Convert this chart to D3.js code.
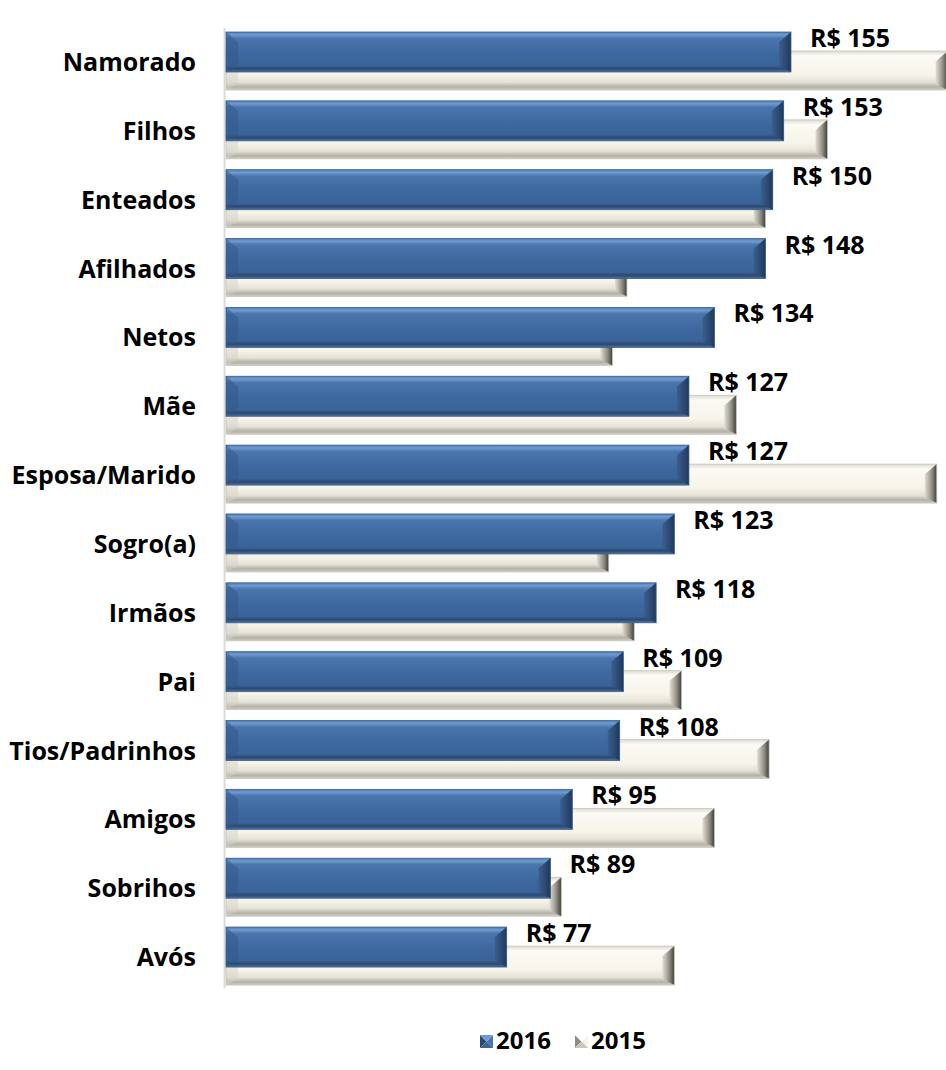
<!DOCTYPE html>
<html>
<head>
<meta charset="utf-8">
<script src="https://cdn.jsdelivr.net/npm/d3@7"></script>
<style>
  html, body { margin: 0; padding: 0; background: #ffffff; }
  svg { display: block; }
  text { font-family: "Open Sans", Lato, sans-serif; font-weight: 700; fill: #000; }
</style>
</head>
<body>
<svg id="chart" width="946" height="1070"></svg>
<script>
// Gasto médio com presentes por destinatário (R$)
const categories = ["Namorado", "Filhos", "Enteados", "Afilhados", "Netos", "Mãe", "Esposa/Marido",
  "Sogro(a)", "Irmãos", "Pai", "Tios/Padrinhos", "Amigos", "Sobrihos", "Avós"];
const values2016 = [155, 153, 150, 148, 134, 127, 127, 123, 118, 109, 108, 95, 89, 77];
const values2015 = [198, 165, 148, 110, 106, 140, 195, 105, 112, 125, 149, 134, 92, 123];
const seriesNames = ["2016", "2015"];

const svg = d3.select("#chart");
const W = 946, H = 1070;

const x = d3.scaleLinear().domain([0, 200]).range([226, 955]);
const y = d3.scaleBand().domain(categories).range([32, 32 + categories.length * 68.85]).padding(0);

const blueH = 40, creamOff = 19, creamH = 39;

// gradients for the bevelled bar look
const defs = svg.append("defs");
function vGrad(id, stops) {
  const g = defs.append("linearGradient").attr("id", id)
    .attr("x1", 0).attr("y1", 0).attr("x2", 0).attr("y2", 1);
  stops.forEach(s => g.append("stop").attr("offset", s[0]).attr("stop-color", s[1]));
}
function hGrad(id, stops) {
  const g = defs.append("linearGradient").attr("id", id)
    .attr("x1", 0).attr("y1", 0).attr("x2", 1).attr("y2", 0);
  stops.forEach(s => g.append("stop").attr("offset", s[0]).attr("stop-color", s[1]));
}
vGrad("blueBody", [[0, "#4f7bb3"], [0.07, "#6f9bd0"], [0.16, "#4a76ad"], [0.55, "#3d689f"],
  [0.84, "#3a6498"], [0.92, "#2a4870"], [1, "#4f72a0"]]);
hGrad("blueEnd", [[0, "#3a5f8e"], [1, "#21395c"]]);
vGrad("creamBody", [[0, "#dcdad0"], [0.12, "#fbfaf4"], [0.6, "#f7f5ea"], [0.8, "#e5e3d7"],
  [0.92, "#b4b2a7"], [1, "#cfcdc3"]]);
hGrad("creamEnd", [[0, "#e2e0d4"], [0.6, "#8e8c82"], [1, "#3f3f38"]]);

const clip = defs.append("clipPath").attr("id", "plotClip");
clip.append("rect").attr("x", 0).attr("y", 0).attr("width", W).attr("height", H);

// axis line
svg.append("line")
  .attr("x1", 224.5).attr("x2", 224.5).attr("y1", 28).attr("y2", 988)
  .attr("stroke", "#d9d9d9").attr("stroke-width", 2);

function drawBar(g, x0, x1, y0, h, body, end, leftFill, edge) {
  const y1 = y0 + h, b = Math.min(12, (x1 - x0) / 2);
  g.append("rect").attr("x", x0).attr("y", y0).attr("width", x1 - x0).attr("height", h)
    .attr("fill", `url(#${body})`);
  // left bevel
  g.append("polygon")
    .attr("points", [[x0, y0], [x0 + b, y0 + b * 0.85], [x0 + b, y1 - b * 0.5], [x0, y1]].join(" "))
    .attr("fill", leftFill).attr("opacity", 0.5);
  // right bevel
  g.append("polygon")
    .attr("points", [[x1 - b, y0 + b * 0.85], [x1, y0], [x1, y1], [x1 - b, y1 - b * 0.5]].join(" "))
    .attr("fill", `url(#${end})`);
  g.append("rect").attr("x", x0).attr("y", y0).attr("width", x1 - x0).attr("height", h)
    .attr("fill", "none").attr("stroke", edge).attr("stroke-width", 0.8);
}

const plot = svg.append("g").attr("clip-path", "url(#plotClip)");

// 2015 bars sit behind, shifted down
categories.forEach((c, i) => {
  drawBar(plot, x(0), x(values2015[i]), y(c) + creamOff, creamH, "creamBody", "creamEnd", "#d6d4c8", "#c8c6ba");
});
// 2016 bars in front
categories.forEach((c, i) => {
  drawBar(plot, x(0), x(values2016[i]), y(c), blueH, "blueBody", "blueEnd", "#30578a", "#3a5f90");
});

// value labels for 2016
svg.append("g").selectAll("text").data(categories).join("text")
  .attr("x", (c, i) => x(values2016[i]) + 19)
  .attr("y", c => y(c) + 15)
  .attr("font-size", 25)
  .text((c, i) => `R$ ${values2016[i]}`);

// category labels
svg.append("g").selectAll("text").data(categories).join("text")
  .attr("x", 196).attr("y", c => y(c) + 39)
  .attr("text-anchor", "end").attr("font-size", 25)
  .text(c => c);

// legend
const legend = svg.append("g");
const legendItems = [
  { name: seriesNames[0], x: 480, colors: ["#2a4770", "#4a76ad", "#3b6599", "#6f9bd0"] },
  { name: seriesNames[1], x: 575, colors: ["#8e8c82", "#f6f4e8", "#c9c7bb", "#ffffff"] }
];
legendItems.forEach(it => {
  const s = 13, lx = it.x, ly = 1035, cx = lx + s / 2, cy = ly + s / 2;
  const tris = [
    [[lx, ly], [lx, ly + s], [cx, cy]],           // left
    [[lx + s, ly], [lx + s, ly + s], [cx, cy]],   // right
    [[lx, ly + s], [lx + s, ly + s], [cx, cy]],   // bottom
    [[lx, ly], [lx + s, ly], [cx, cy]]            // top
  ];
  tris.forEach((t, k) => legend.append("polygon").attr("points", t.join(" ")).attr("fill", it.colors[k]));
  legend.append("text").attr("x", lx + 16).attr("y", ly + 14).attr("font-size", 24).text(it.name);
});
</script>
</body>
</html>
